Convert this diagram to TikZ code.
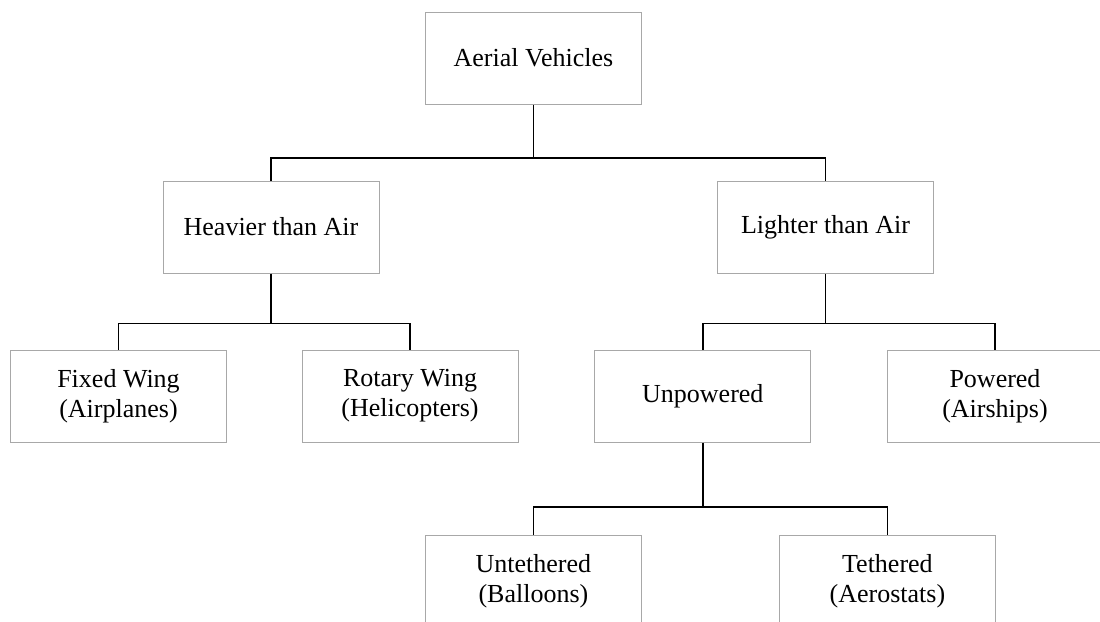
\documentclass[tikz,border=0pt]{standalone}
\usepackage{fontspec}
\setmainfont{Liberation Serif}
\definecolor{boxgray}{HTML}{A8A8A8}
\begin{document}
\begin{tikzpicture}[x=1pt,y=-1pt,
  box/.style={draw=boxgray, line width=1pt, fill=white, minimum width=216pt, minimum height=92pt,
    inner sep=0pt, align=center, font=\fontsize{26}{30}\selectfont},
  link/.style={draw=black, line width=1.6pt}]
\clip (0,0) rectangle (1100,621);
\fill[white] (0,0) rectangle (1100,621);
% nodes
\node[box] (av)  at (533.4,58)  {Aerial Vehicles};
\node[box] (hta) at (271,227)   {Heavier than Air};
\node[box] (lta) at (825.5,227) {Lighter than Air};
\node[box] (fw)  at (118.5,396) {Fixed Wing\\(Airplanes)};
\node[box] (rw)  at (410,396)   {Rotary Wing\\(Helicopters)};
\node[box] (up)  at (702.8,396) {Unpowered};
\node[box] (pw)  at (995,396)   {Powered\\(Airships)};
\node[box] (ut)  at (533.4,581) {Untethered\\(Balloons)};
\node[box] (th)  at (887.4,581) {Tethered\\(Aerostats)};
% junctions
\coordinate (j1) at (av.south |- 0,157.7);
\coordinate (j2) at (hta.south |- 0,323.5);
\coordinate (j3) at (lta.south |- 0,323.5);
\coordinate (j4) at (up.south |- 0,506.7);
% connectors
\draw[link] (av.south) -- (j1);
\draw[link] (j1) -| (hta.north);
\draw[link] (j1) -| (lta.north);
\draw[link] (hta.south) -- (j2);
\draw[link] (j2) -| (fw.north);
\draw[link] (j2) -| (rw.north);
\draw[link] (lta.south) -- (j3);
\draw[link] (j3) -| (up.north);
\draw[link] (j3) -| (pw.north);
\draw[link] (up.south) -- (j4);
\draw[link] (j4) -| (ut.north);
\draw[link] (j4) -| (th.north);
\end{tikzpicture}
\end{document}
